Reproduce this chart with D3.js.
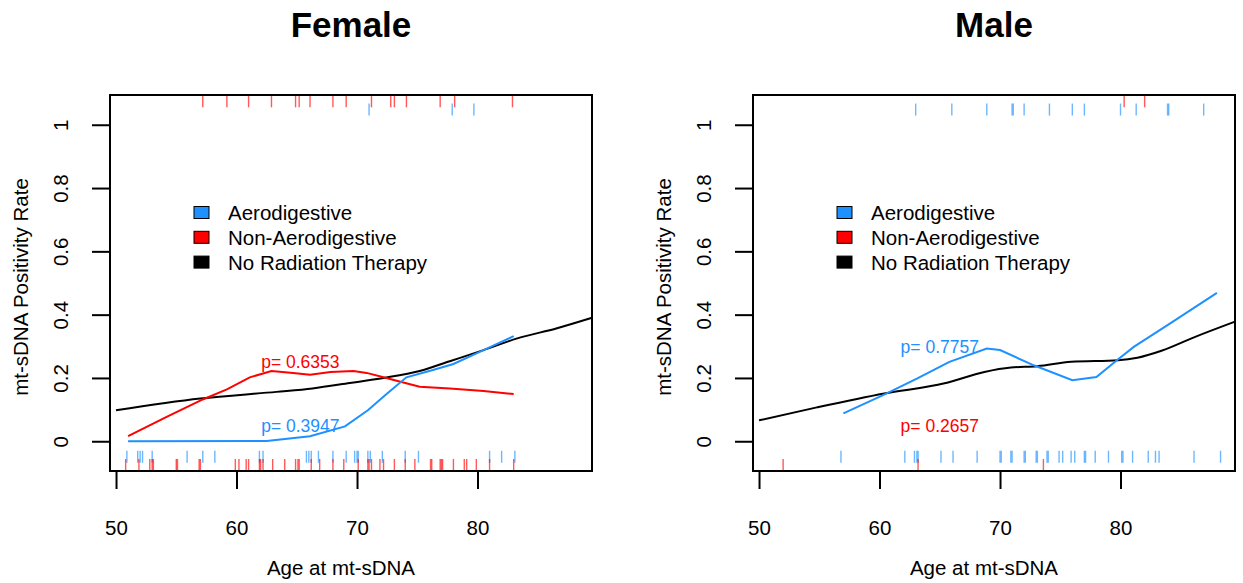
<!DOCTYPE html>
<html>
<head>
<meta charset="utf-8">
<script src="https://cdn.jsdelivr.net/npm/d3@7"></script>
<style>
  body { margin: 0; background: #fff; }
  svg { font-family: "Liberation Sans", Arial, Helvetica, sans-serif; }
</style>
</head>
<body>
<div id="chart"></div>
<script>
// ages of patients in each group, split by mt-sDNA result (pos = 1, neg = 0)
const femaleAeroPos = [71.0, 77.9, 79.7]
const femaleNonAeroPos = [57.2, 59.2, 61.0, 62.9, 64.9, 65.2, 66.1, 68.0, 69.1, 71.2, 72.8, 73.1, 74.1, 76.9, 78.1, 82.9]
const femaleAeroNeg = [50.9, 51.8, 52.0, 52.2, 53.0, 55.9, 57.2, 58.2, 61.9, 62.2, 65.8, 66.0, 66.2, 66.8, 68.0, 69.1, 69.8, 70.0, 70.1, 70.9, 71.1, 72.1, 74.0, 75.1, 81.0, 82.0, 83.1]
const femaleNonAeroNeg = [50.8, 51.9, 52.8, 53.0, 53.1, 55.0, 55.1, 56.9, 57.0, 59.9, 60.2, 60.8, 61.0, 61.9, 62.0, 62.2, 63.0, 64.0, 64.9, 65.1, 65.2, 66.2, 66.9, 68.0, 68.9, 70.1, 70.9, 71.0, 71.2, 71.9, 72.2, 73.1, 74.0, 74.8, 76.1, 76.2, 76.9, 77.0, 77.1, 78.0, 78.9, 79.1, 79.9, 81.0, 83.0]

const maleAeroPos = [63.0, 66.0, 68.9, 71.0, 71.1, 72.0, 74.1, 76.0, 77.0, 80.0, 81.3, 83.9, 84.0, 86.9]
const maleNonAeroPos = [80.3, 82.0]
const maleAeroNeg = [56.8, 62.1, 62.9, 63.1, 63.2, 65.1, 66.1, 68.1, 70.0, 70.1, 70.9, 71.0, 72.0, 72.1, 73.0, 73.1, 73.9, 74.0, 74.9, 75.2, 75.9, 76.2, 77.0, 77.1, 77.9, 79.0, 80.1, 80.2, 81.0, 82.3, 82.9, 83.2, 86.1, 88.3]
const maleNonAeroNeg = [52.0, 63.2, 73.6]

// smoothed positivity rate curves: [age, rate]
const femaleNoRT = [[50, 0.098], [57, 0.135], [63.3, 0.156], [66.3, 0.167], [69.4, 0.184], [72.2, 0.2], [75.2, 0.222], [77.7, 0.253], [80.5, 0.288], [83.3, 0.325], [86.6, 0.357], [89.5, 0.39]]
const femaleAero = [[51, 0], [62.5, 0.001], [66.1, 0.016], [69, 0.047], [70.9, 0.098], [72.5, 0.151], [74.1, 0.202], [76.3, 0.225], [78, 0.244], [80.5, 0.288], [83, 0.332]]
const femaleNonAero = [[51, 0.016], [54.2, 0.077], [57.2, 0.132], [59.2, 0.164], [61.1, 0.202], [62.9, 0.222], [64.7, 0.216], [66.1, 0.21], [67.8, 0.219], [69.7, 0.222], [70.8, 0.216], [72.2, 0.202], [73.6, 0.188], [75.2, 0.172], [77.7, 0.167], [80.5, 0.159], [83, 0.149]]

const maleNoRT = [[50, 0.066], [54.8, 0.107], [60.4, 0.151], [65.4, 0.183], [68.7, 0.219], [70.9, 0.233], [73.1, 0.237], [75.9, 0.251], [79.8, 0.256], [81.4, 0.264], [83.4, 0.286], [86.2, 0.33], [89.5, 0.378]]
const maleAero = [[57, 0.088], [60.3, 0.146], [63.1, 0.198], [65.8, 0.251], [68.9, 0.293], [70, 0.288], [72.8, 0.24], [76, 0.193], [78, 0.203], [79.7, 0.256], [81.1, 0.298], [83.9, 0.367], [88, 0.469]]

// p-value labels: [age, rate, text, colour]
const femalePLabels = [[65.3, 0.25, 'p= 0.6353', 'red'], [65.3, 0.05, 'p= 0.3947', 'blue']]
const malePLabels = [[65.0, 0.3, 'p= 0.7757', 'blue'], [65.0, 0.05, 'p= 0.2657', 'red']]

const xTicks = [50, 60, 70, 80]
const yTicks = [0, 0.2, 0.4, 0.6, 0.8, 1]
const legendText = ['Aerodigestive', 'Non-Aerodigestive', 'No Radiation Therapy']

const colors = { blue: '#1E90FF', red: '#FF0000', black: '#000000' }
const legendColor = [colors.blue, colors.red, colors.black]

let width = 1243
let height = 583
let plotTop = 95
let plotBottom = 471
let fontSize = 20.5

let svg = d3
  .select('#chart')
  .append('svg')
  .attr('width', width)
  .attr('height', height)

let y = d3.scaleLinear().domain([-0.094, 1.094]).range([plotBottom, plotTop])

let panels = [
  {
    title: 'Female', left: 110, right: 592,
    aeroPos: femaleAeroPos, nonAeroPos: femaleNonAeroPos,
    aeroNeg: femaleAeroNeg, nonAeroNeg: femaleNonAeroNeg,
    curves: [[femaleNoRT, colors.black], [femaleNonAero, colors.red], [femaleAero, colors.blue]],
    labels: femalePLabels
  },
  {
    title: 'Male', left: 753, right: 1235,
    aeroPos: maleAeroPos, nonAeroPos: maleNonAeroPos,
    aeroNeg: maleAeroNeg, nonAeroNeg: maleNonAeroNeg,
    curves: [[maleNoRT, colors.black], [maleAero, colors.blue]],
    labels: malePLabels
  }
]

panels.forEach(p => drawPanel(p))

function drawPanel(p) {
  let x = d3.scaleLinear().domain([49.5, 89.5]).range([p.left, p.right])
  let g = svg.append('g')
  let mid = (p.left + p.right) / 2

  // title
  g.append('text')
    .attr('x', mid)
    .attr('y', 37)
    .attr('text-anchor', 'middle')
    .attr('font-size', 35)
    .attr('font-weight', 'bold')
    .text(p.title)

  // rugs
  let rug = (ages, level, color) => {
    g.selectAll(null)
      .data(ages)
      .enter()
      .append('line')
      .attr('x1', d => x(d))
      .attr('x2', d => x(d))
      .attr('y1', y(level) - 6)
      .attr('y2', y(level) + 6)
      .attr('stroke', color)
      .attr('stroke-width', 1.4)
      .attr('stroke-opacity', 0.65)
  }
  rug(p.nonAeroPos, 1.074, colors.red)
  rug(p.aeroPos, 1.048, colors.blue)
  rug(p.aeroNeg, -0.049, colors.blue)
  rug(p.nonAeroNeg, -0.075, colors.red)

  // curves
  p.curves.forEach(([pts, color]) => {
    let line = d3.line()
      .x(d => x(d[0]))
      .y(d => y(d[1]))
      .curve(color === colors.black ? d3.curveMonotoneX : d3.curveLinear)
    g.append('path')
      .datum(pts)
      .attr('d', line)
      .attr('fill', 'none')
      .attr('stroke', color)
      .attr('stroke-width', 2)
  })

  // p labels
  g.selectAll(null)
    .data(p.labels)
    .enter()
    .append('text')
    .attr('x', d => x(d[0]))
    .attr('y', d => y(d[1]))
    .attr('dy', '0.36em')
    .attr('text-anchor', 'middle')
    .attr('font-size', 17.5)
    .attr('fill', d => colors[d[3]])
    .text(d => d[2])

  // legend
  let legend = g.selectAll(null)
    .data(legendText)
    .enter()
    .append('g')
    .attr('transform', (d, i) => `translate(${p.left + 84}, ${213 + i * 24.8})`)
  legend.append('rect')
    .attr('x', 0)
    .attr('y', -6.5)
    .attr('width', 15)
    .attr('height', 12)
    .attr('fill', (d, i) => legendColor[i])
    .attr('stroke', 'black')
    .attr('stroke-width', 1)
  legend.append('text')
    .attr('x', 34)
    .attr('dy', '0.36em')
    .attr('font-size', fontSize)
    .text(d => d)

  // box
  g.append('rect')
    .attr('x', p.left)
    .attr('y', plotTop)
    .attr('width', p.right - p.left)
    .attr('height', plotBottom - plotTop)
    .attr('fill', 'none')
    .attr('stroke', 'black')
    .attr('stroke-width', 2)

  // x axis
  let xAxis = g.append('g')
    .attr('transform', `translate(0, ${plotBottom})`)
    .call(d3.axisBottom(x).tickValues(xTicks).tickSize(18).tickPadding(31))
  xAxis.select('.domain').remove()
  xAxis.selectAll('line').attr('stroke-width', 2)
  xAxis.selectAll('text').attr('font-size', fontSize).attr('font-family', null)

  g.append('text')
    .attr('x', mid - 10)
    .attr('y', 575)
    .attr('text-anchor', 'middle')
    .attr('font-size', fontSize)
    .text('Age at mt-sDNA')

  // y axis
  let yAxis = g.append('g')
    .attr('transform', `translate(${p.left}, 0)`)
    .call(d3.axisLeft(y).tickValues(yTicks).tickSize(18).tickFormat(d => String(d)))
  yAxis.select('.domain').remove()
  yAxis.selectAll('line').attr('stroke-width', 2)
  yAxis.selectAll('text')
    .attr('x', null)
    .attr('dy', '0.36em')
    .attr('text-anchor', 'middle')
    .attr('transform', 'translate(-49, 0) rotate(-90)')
    .attr('font-size', fontSize)
    .attr('font-family', null)

  g.append('text')
    .attr('transform', `translate(${p.left - 89}, ${(plotTop + plotBottom) / 2 + 4}) rotate(-90)`)
    .attr('dy', '0.36em')
    .attr('text-anchor', 'middle')
    .attr('font-size', fontSize)
    .text('mt-sDNA Positivity Rate')
}
</script>
</body>
</html>
